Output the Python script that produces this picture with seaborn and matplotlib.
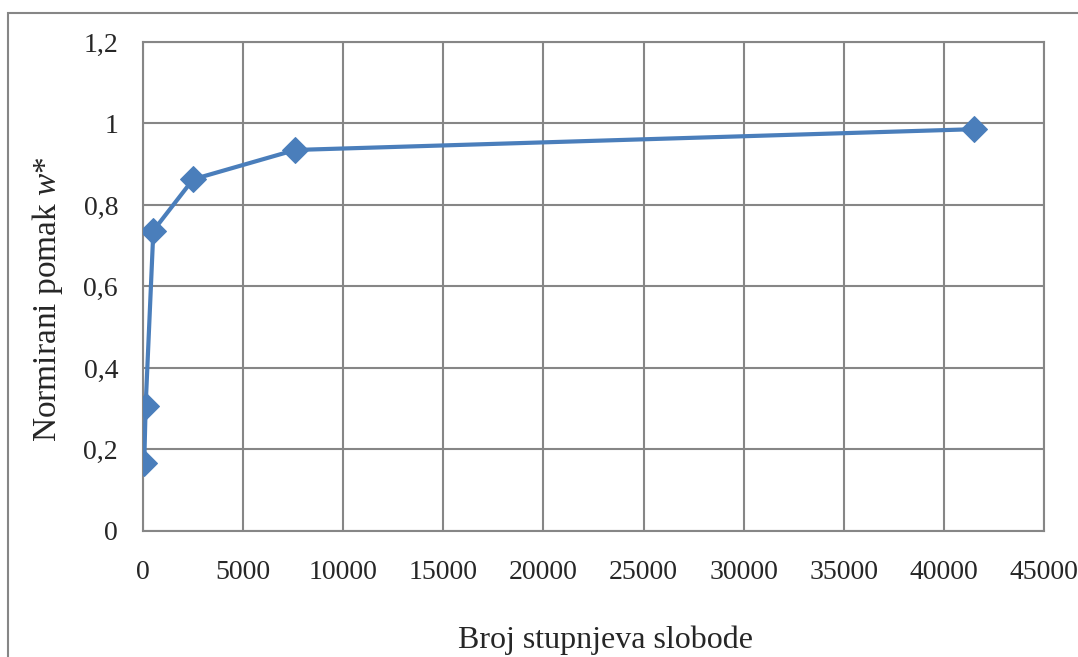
import pandas as pd
import matplotlib
matplotlib.use("Agg")
import matplotlib.pyplot as plt
import matplotlib.patches as mpatches
import seaborn as sns

# broj stupnjeva slobode i normirani pomak
dof = [60, 130, 515, 2500, 7600, 41500]
w_norm = [0.166, 0.307, 0.737, 0.863, 0.935, 0.986]

df = pd.DataFrame({'dof': dof, 'w': w_norm})

sns.set_style('white')
plt.rcParams['font.family'] = ['Liberation Serif', 'DejaVu Serif']
plt.rcParams['mathtext.fontset'] = 'custom'
plt.rcParams['mathtext.it'] = 'Liberation Serif:italic'
plt.rcParams['mathtext.rm'] = 'Liberation Serif'

fig = plt.figure(figsize=(10.78, 6.57), dpi=100)
ax = fig.add_axes([0.1327, 0.1918, 0.8358, 0.7443])

grid_col = '#868686'
sns.lineplot(data=df, x='dof', y='w', ax=ax, color='#4A7EBB', linewidth=3,
             marker='D', markersize=13, markeredgecolor='#4A7EBB', zorder=3)

ax.set_xlim(0, 45000)
ax.set_ylim(0, 1.2)
ax.set_xticks(range(0, 45001, 5000))
ax.set_yticks([0, 0.2, 0.4, 0.6, 0.8, 1.0, 1.2])
ax.set_yticklabels(['0', '0,2', '0,4', '0,6', '0,8', '1', '1,2'])
ax.grid(True, color=grid_col, linewidth=1.5)
for s in ax.spines.values():
    s.set_color(grid_col)
    s.set_linewidth(1.5)
ax.tick_params(axis='both', length=0, labelsize=20)
ax.tick_params(axis='x', pad=21)
ax.tick_params(axis='y', pad=18)

ax.set_xlabel('Broj stupnjeva slobode', fontsize=23, labelpad=29)
ax.set_ylabel('Normirani pomak $w$*', fontsize=24, labelpad=13)
ax.xaxis.label.set_x(0.513)
ax.yaxis.label.set_y(0.474)

# okvir grafikona
fig.patches.append(mpatches.Rectangle((8 / 1078, -0.01), 1.2, 1 - 13 / 657 + 0.01,
                                      transform=fig.transFigure, fill=False,
                                      edgecolor=grid_col, linewidth=1.5))

fig.savefig('out.png', dpi=100)
